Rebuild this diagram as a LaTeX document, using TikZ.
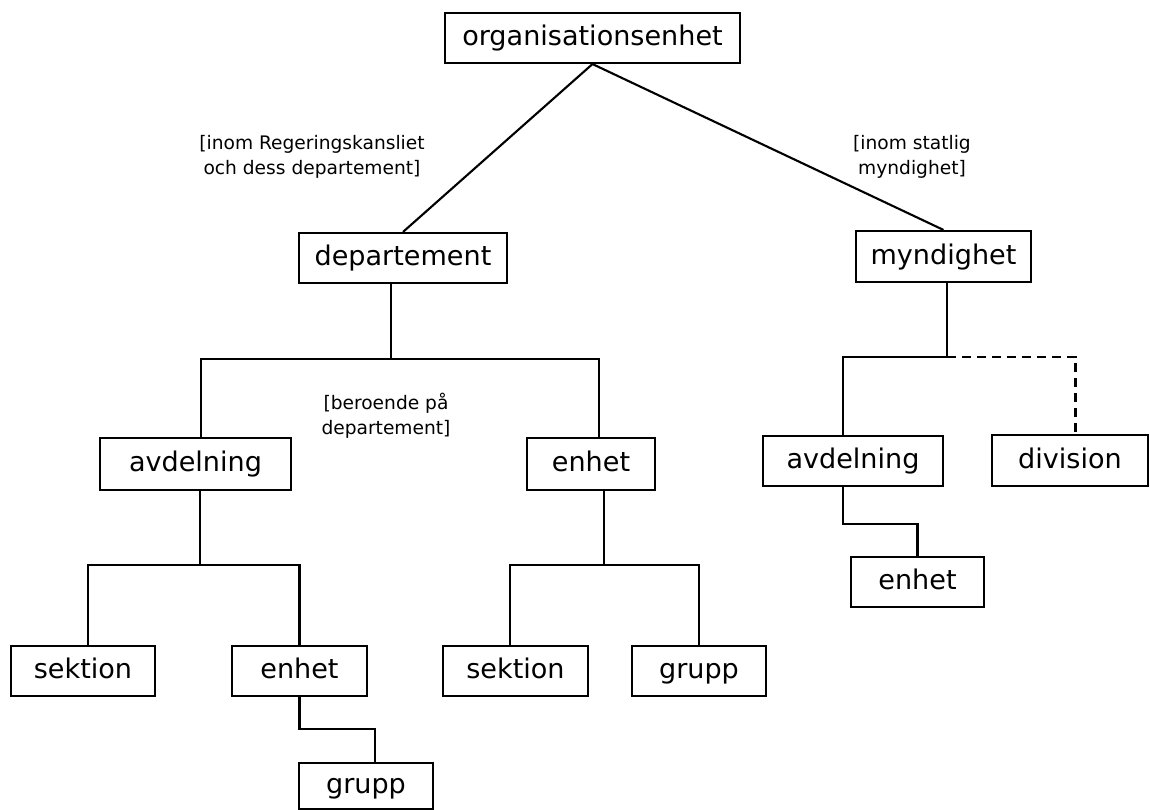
\documentclass[tikz,border=0pt]{standalone}
\usepackage{fontspec}
\setmainfont{DejaVu Sans}
\usepackage{tikz}
\usetikzlibrary{calc, positioning}

\begin{document}
\begin{tikzpicture}[line width=1.2pt]
      % Styles
      \tikzset{unit/.style={draw, rectangle, minimum height=1cm, inner sep=0pt, text height=1em, text depth=0.1em, font=\fontsize{15.4}{18}\selectfont}}
      \tikzset{scope_label/.style={align=center, font=\fontsize{10.6}{14.2}\selectfont}}

      \useasboundingbox (0,0) rectangle (23,-16.2);

      % --- Top level ---
      \node[unit, minimum width=5.9cm] (org) at (11.85,-0.76) {organisationsenhet};

      % --- Second level ---
      \node[unit, minimum width=4.16cm] (dep) at (8.06,-5.16) {departement};
      \node[unit, minimum width=3.5cm, minimum height=1.02cm] (mynd) at (18.87,-5.13) {myndighet};

      % --- Under departement ---
      \node[unit, minimum width=3.82cm, minimum height=1.04cm] (avdL) at (3.91,-9.28) {avdelning};
      \node[unit, minimum width=2.56cm, minimum height=1.04cm] (enhM) at (11.82,-9.28) {enhet};
      \node[unit, minimum width=2.88cm] (sekL) at (1.66,-13.42) {sektion};
      \node[unit, minimum width=2.7cm] (enhL) at (5.99,-13.42) {enhet};
      \node[unit, minimum width=2.68cm, minimum height=0.92cm] (grpB) at (7.32,-15.72) {grupp};
      \node[unit, minimum width=2.9cm] (sekM) at (10.31,-13.42) {sektion};
      \node[unit, minimum width=2.68cm] (grpM) at (13.98,-13.42) {grupp};

      % --- Under myndighet ---
      \node[unit, minimum width=3.6cm] (avdR) at (17.06,-9.22) {avdelning};
      \node[unit, minimum width=3.12cm, minimum height=1.02cm] (div) at (21.4,-9.21) {division};
      \node[unit, minimum width=2.66cm] (enhR) at (18.35,-11.64) {enhet};

      % --- Scope labels ---
      \node[scope_label] (lblRK) at (6.24,-3.14) {[inom Regeringskansliet\\och dess departement]};
      \node[scope_label] (lblSM) at (18.24,-3.14) {[inom statlig\\myndighet]};
      \node[scope_label] (lblBP) at (7.72,-8.32) {[beroende på\\departement]};

      % --- Junctions ---
      \coordinate (depbus) at (7.82,-7.18);
      \coordinate (avdbus) at (4.0,-11.3);
      \coordinate (enhbus) at (12.08,-11.3);
      \coordinate (myndbus) at (18.94,-7.14);

      % --- Connectors ---
      \draw (org.south) -- (dep.north);
      \draw (org.south) -- (mynd.north);

      \draw (depbus |- dep.south) -- (depbus);
      \draw ([xshift=0.11cm]avdL.north) |- (depbus) -| ([xshift=0.16cm]enhM.north);

      \draw (avdbus |- avdL.south) -- (avdbus);
      \draw ([xshift=0.1cm]sekL.north) |- (avdbus) -| (enhL.north);
      \draw (enhL.south) -- ++(0,-0.64) -| ([xshift=0.18cm]grpB.north);

      \draw (enhbus |- enhM.south) -- (enhbus);
      \draw ([xshift=-0.11cm]sekM.north) |- (enhbus) -| (grpM.north);

      \draw (myndbus |- mynd.south) -- (myndbus) -| ([xshift=-0.2cm]avdR.north);
      \draw[dash pattern=on 0.18cm off 0.12cm] (myndbus) -| ([xshift=0.11cm]div.north);
      \draw ([xshift=-0.2cm]avdR.south) -- ++(0,-0.74) -| (enhR.north);

    \end{tikzpicture}
\end{document}
